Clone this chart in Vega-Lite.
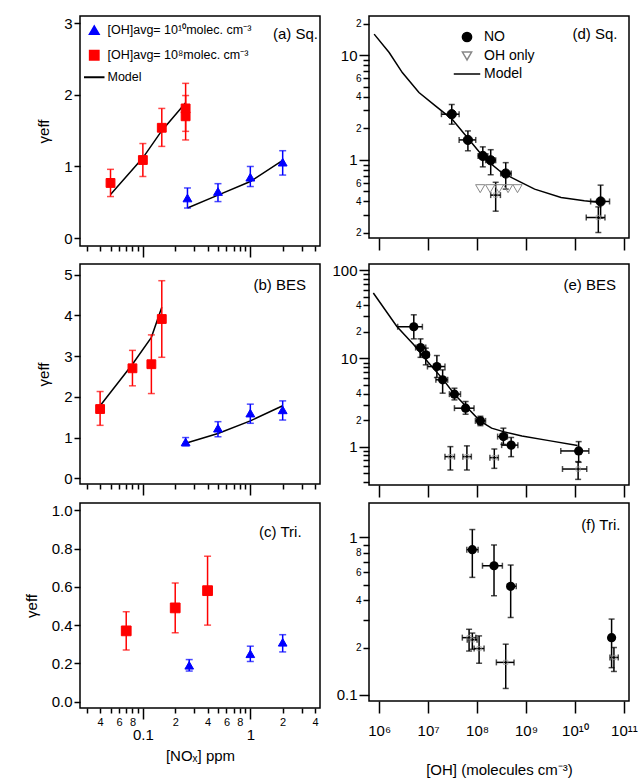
{
  "$schema": "https://vega.github.io/schema/vega-lite/v6.json",
  "padding": {"left": 23, "top": 15, "right": 2, "bottom": 2},
  "background": "white",
  "columns": 2,
  "align": "each",
  "spacing": {"row": 3, "column": 10},
  "resolve": {
    "scale": {"x": "independent", "y": "independent", "shape": "independent", "fill": "independent", "stroke": "independent"},
    "legend": {"shape": "independent", "fill": "independent", "stroke": "independent"},
    "axis": {"x": "independent", "y": "independent"}
  },
  "datasets": {
    "a_pts": [
      {"nox": 0.05, "g": 0.77, "lo": 0.58, "hi": 0.96, "oh": "1e8"},
      {"nox": 0.1, "g": 1.09, "lo": 0.86, "hi": 1.32, "oh": "1e8"},
      {"nox": 0.15, "g": 1.54, "lo": 1.28, "hi": 1.81, "oh": "1e8"},
      {"nox": 0.25, "g": 1.81, "lo": 1.49, "hi": 2.16, "oh": "1e8"},
      {"nox": 0.25, "g": 1.70, "lo": 1.37, "hi": 1.99, "oh": "1e8"},
      {"nox": 0.26, "g": 0.56, "lo": 0.42, "hi": 0.70, "oh": "1e10"},
      {"nox": 0.5, "g": 0.65, "lo": 0.51, "hi": 0.76, "oh": "1e10"},
      {"nox": 1, "g": 0.85, "lo": 0.72, "hi": 1.0, "oh": "1e10"},
      {"nox": 2, "g": 1.06, "lo": 0.88, "hi": 1.22, "oh": "1e10"}
    ],
    "a_model": [
      {"nox": 0.05, "g": 0.61, "oh": "1e8"},
      {"nox": 0.1, "g": 1.12, "oh": "1e8"},
      {"nox": 0.15, "g": 1.50, "oh": "1e8"},
      {"nox": 0.25, "g": 1.89, "oh": "1e8"},
      {"nox": 0.26, "g": 0.42, "oh": "1e10"},
      {"nox": 0.5, "g": 0.60, "oh": "1e10"},
      {"nox": 1, "g": 0.79, "oh": "1e10"},
      {"nox": 2, "g": 1.085, "oh": "1e10"}
    ],
    "b_pts": [
      {"nox": 0.04, "g": 1.70, "lo": 1.30, "hi": 2.13, "oh": "1e8"},
      {"nox": 0.08, "g": 2.70, "lo": 2.27, "hi": 3.14, "oh": "1e8"},
      {"nox": 0.12, "g": 2.80, "lo": 2.08, "hi": 3.52, "oh": "1e8"},
      {"nox": 0.15, "g": 3.91, "lo": 2.97, "hi": 4.85, "oh": "1e8"},
      {"nox": 0.25, "g": 0.89, "lo": 0.80, "hi": 1.0, "oh": "1e10"},
      {"nox": 0.5, "g": 1.23, "lo": 1.02, "hi": 1.39, "oh": "1e10"},
      {"nox": 1, "g": 1.60, "lo": 1.35, "hi": 1.82, "oh": "1e10"},
      {"nox": 2, "g": 1.68, "lo": 1.43, "hi": 1.90, "oh": "1e10"}
    ],
    "b_model": [
      {"nox": 0.04, "g": 1.78, "oh": "1e8"},
      {"nox": 0.08, "g": 2.80, "oh": "1e8"},
      {"nox": 0.12, "g": 3.46, "oh": "1e8"},
      {"nox": 0.15, "g": 4.2, "oh": "1e8"},
      {"nox": 0.25, "g": 0.86, "oh": "1e10"},
      {"nox": 0.5, "g": 1.10, "oh": "1e10"},
      {"nox": 1, "g": 1.41, "oh": "1e10"},
      {"nox": 2, "g": 1.78, "oh": "1e10"}
    ],
    "c_pts": [
      {"nox": 0.07, "g": 0.37, "lo": 0.27, "hi": 0.47, "oh": "1e8"},
      {"nox": 0.2, "g": 0.49, "lo": 0.36, "hi": 0.62, "oh": "1e8"},
      {"nox": 0.4, "g": 0.58, "lo": 0.40, "hi": 0.76, "oh": "1e8"},
      {"nox": 0.27, "g": 0.19, "lo": 0.16, "hi": 0.22, "oh": "1e10"},
      {"nox": 1, "g": 0.25, "lo": 0.21, "hi": 0.29, "oh": "1e10"},
      {"nox": 2, "g": 0.31, "lo": 0.26, "hi": 0.35, "oh": "1e10"}
    ],
    "d_pts": [
      {"conc": 3.04e7, "g": 2.73, "glo": 2.19, "ghi": 3.38, "clo": 1.87e7, "chi": 4.3e7, "series": "NO"},
      {"conc": 6.5e7, "g": 1.55, "glo": 1.22, "ghi": 1.89, "clo": 4.3e7, "chi": 9.4e7, "series": "NO"},
      {"conc": 1.31e8, "g": 1.09, "glo": 0.857, "ghi": 1.33, "clo": 1.05e8, "chi": 1.66e8, "series": "NO"},
      {"conc": 1.9e8, "g": 0.99, "glo": 0.72, "ghi": 1.25, "clo": 1.5e8, "chi": 2.4e8, "series": "NO"},
      {"conc": 3.85e8, "g": 0.74, "glo": 0.525, "ghi": 0.94, "clo": 3.04e8, "chi": 5.0e8, "series": "NO"},
      {"conc": 3.34e10, "g": 0.40, "glo": 0.277, "ghi": 0.573, "clo": 2.09e10, "chi": 5.09e10, "series": "NO"},
      {"conc": 1.16e8, "g": 0.53, "series": "OH only"},
      {"conc": 1.85e8, "g": 0.53, "series": "OH only"},
      {"conc": 2.8e8, "g": 0.53, "series": "OH only"},
      {"conc": 4.3e8, "g": 0.53, "series": "OH only"},
      {"conc": 6.7e8, "g": 0.53, "series": "OH only"}
    ],
    "d_cross": [
      {"conc": 2.4e8, "g": 0.46, "glo": 0.323, "ghi": 0.61, "clo": 1.9e8, "chi": 3.0e8},
      {"conc": 3.0e10, "g": 0.281, "glo": 0.202, "ghi": 0.355, "clo": 1.7e10, "chi": 4.1e10}
    ],
    "d_model": [
      {"conc": 7.9e5, "g": 15.9},
      {"conc": 1.6e6, "g": 10.6},
      {"conc": 2.97e6, "g": 6.82},
      {"conc": 6.5e6, "g": 4.4},
      {"conc": 1.41e7, "g": 3.28},
      {"conc": 3.07e7, "g": 2.45},
      {"conc": 6.7e7, "g": 1.58},
      {"conc": 1.46e8, "g": 1.02},
      {"conc": 3.16e8, "g": 0.757},
      {"conc": 6.9e8, "g": 0.63},
      {"conc": 1.5e9, "g": 0.525},
      {"conc": 5.2e9, "g": 0.436},
      {"conc": 1.55e10, "g": 0.406},
      {"conc": 3.4e10, "g": 0.391}
    ],
    "e_pts": [
      {"conc": 5.1e6, "g": 22.9, "glo": 16.7, "ghi": 31.3, "clo": 2.39e6, "chi": 7.64e6},
      {"conc": 7.0e6, "g": 13.3, "glo": 10.3, "ghi": 16.7, "clo": 5.56e6, "chi": 8.95e6},
      {"conc": 8.95e6, "g": 11.0, "glo": 8.47, "ghi": 13.1, "clo": 6.82e6, "chi": 1.05e7},
      {"conc": 1.51e7, "g": 8.1, "glo": 6.08, "ghi": 10.8, "clo": 9.7e6, "chi": 2.21e7},
      {"conc": 1.98e7, "g": 5.73, "glo": 4.04, "ghi": 7.43, "clo": 1.44e7, "chi": 2.51e7},
      {"conc": 3.45e7, "g": 3.94, "glo": 3.39, "ghi": 4.6, "clo": 2.72e7, "chi": 4.59e7},
      {"conc": 5.83e7, "g": 2.73, "glo": 2.33, "ghi": 3.25, "clo": 3.45e7, "chi": 8.67e7},
      {"conc": 1.17e8, "g": 1.96, "glo": 1.73, "ghi": 2.21, "clo": 9.25e7, "chi": 1.49e8},
      {"conc": 3.45e8, "g": 1.30, "glo": 1.06, "ghi": 1.62, "clo": 2.63e8, "chi": 4.17e8},
      {"conc": 4.97e8, "g": 1.04, "glo": 0.77, "ghi": 1.27, "clo": 3.18e8, "chi": 6.82e8},
      {"conc": 1.19e10, "g": 0.893, "glo": 0.664, "ghi": 1.14, "clo": 5.13e9, "chi": 1.92e10}
    ],
    "e_cross": [
      {"conc": 2.85e7, "g": 0.77, "glo": 0.543, "ghi": 1.0, "clo": 2.21e7, "chi": 3.45e7},
      {"conc": 6.2e7, "g": 0.77, "glo": 0.543, "ghi": 1.02, "clo": 5.13e7, "chi": 7.64e7},
      {"conc": 2.25e8, "g": 0.75, "glo": 0.567, "ghi": 0.94, "clo": 1.83e8, "chi": 2.72e8},
      {"conc": 1.16e10, "g": 0.557, "glo": 0.425, "ghi": 0.676, "clo": 5.56e9, "chi": 1.74e10}
    ],
    "e_model": [
      {"conc": 7.6e5, "g": 55.3},
      {"conc": 2.3e6, "g": 23.1},
      {"conc": 5.1e6, "g": 14.3},
      {"conc": 9.7e6, "g": 9.25},
      {"conc": 1.98e7, "g": 5.87},
      {"conc": 3.45e7, "g": 3.93},
      {"conc": 6.5e7, "g": 2.73},
      {"conc": 1.14e8, "g": 1.96},
      {"conc": 1.98e8, "g": 1.62},
      {"conc": 3.45e8, "g": 1.48},
      {"conc": 8.26e8, "g": 1.32},
      {"conc": 2.94e9, "g": 1.17},
      {"conc": 1.13e10, "g": 1.03}
    ],
    "f_pts": [
      {"conc": 8.0e7, "g": 0.835, "glo": 0.557, "ghi": 1.12, "clo": 6.17e7, "chi": 1.05e8},
      {"conc": 2.22e8, "g": 0.66, "glo": 0.426, "ghi": 0.894, "clo": 1.29e8, "chi": 3.29e8},
      {"conc": 4.86e8, "g": 0.489, "glo": 0.31, "ghi": 0.667, "clo": 4.17e8, "chi": 6.31e8},
      {"conc": 5.6e10, "g": 0.231, "glo": 0.149, "ghi": 0.303, "clo": 4.9e10, "chi": 6.3e10}
    ],
    "f_cross": [
      {"conc": 6.87e7, "g": 0.231, "glo": 0.19, "ghi": 0.261, "clo": 5.0e7, "chi": 9.4e7},
      {"conc": 8.0e7, "g": 0.224, "glo": 0.195, "ghi": 0.247, "clo": 6.3e7, "chi": 1.0e8},
      {"conc": 1.1e8, "g": 0.197, "glo": 0.159, "ghi": 0.237, "clo": 8.7e7, "chi": 1.39e8},
      {"conc": 3.85e8, "g": 0.161, "glo": 0.11, "ghi": 0.21, "clo": 2.48e8, "chi": 5.69e8},
      {"conc": 6.25e10, "g": 0.173, "glo": 0.141, "ghi": 0.2, "clo": 5.18e10, "chi": 7.66e10}
    ]
  },
  "concat": [
    {
      "width": 240, "height": 230,
      "layer": [
        {
          "data": {"name": "a_model"},
          "mark": {"type": "line", "color": "black", "strokeWidth": 1.5},
          "encoding": {
            "x": {"field": "nox", "type": "quantitative", "scale": {"type": "log", "domain": [0.026, 4.45], "nice": false}, "axis": {"values": [0.03,0.04,0.05,0.06,0.07,0.08,0.09,0.1,0.2,0.3,0.4,0.5,0.6,0.7,0.8,0.9,1,2,3,4], "labels": false, "title": null, "tickSize": {"condition": {"test": "datum.value==0.1||datum.value==1", "value": 11}, "value": 5}}},
            "y": {"field": "g", "type": "quantitative", "scale": {"domain": [-0.11, 3.1], "nice": false, "zero": false}, "axis": {"values": [0,1,2,3], "format": "d", "tickSize": 6, "title": "γeff", "titlePadding": 12}},
            "detail": {"field": "oh"}
          }
        },
        {
          "data": {"name": "a_pts"}, "transform": [{"filter": "datum.oh=='1e8'"}],
          "mark": {"type": "errorbar", "color": "#ff0000", "thickness": 1.5, "ticks": {"size": 7}},
          "encoding": {"x": {"field": "nox", "type": "quantitative"}, "y": {"field": "lo", "type": "quantitative", "title": "γeff"}, "y2": {"field": "hi"}}
        },
        {
          "data": {"name": "a_pts"}, "transform": [{"filter": "datum.oh=='1e10'"}],
          "mark": {"type": "errorbar", "color": "#0000ff", "thickness": 1.5, "ticks": {"size": 7}},
          "encoding": {"x": {"field": "nox", "type": "quantitative"}, "y": {"field": "lo", "type": "quantitative", "title": "γeff"}, "y2": {"field": "hi"}}
        },
        {
          "data": {"name": "a_pts"},
          "mark": {"type": "point", "opacity": 1, "strokeWidth": 1, "size": 78},
          "encoding": {
            "x": {"field": "nox", "type": "quantitative"},
            "y": {"field": "g", "type": "quantitative", "title": "γeff"},
            "shape": {"field": "oh", "type": "nominal", "scale": {"domain": ["1e10", "1e8", "Model"], "range": ["triangle-up", "square", "stroke"]}, "legend": {"orient": "top-left", "offset": 8, "padding": 0, "title": null, "labelFontSize": 12.5, "rowPadding": 7, "labelOffset": 7, "symbolSize": 420, "symbolStrokeWidth": 2, "labelLimit": 300, "labelExpr": "datum.label=='1e10'?'[OH]avg= 10¹⁰molec. cm⁻³':datum.label=='1e8'?'[OH]avg= 10⁸molec. cm⁻³':'Model'", "encode": {"symbols": {"update": {"size": {"signal": "datum.value==='Model'?420:78"}}}}}},
            "fill": {"field": "oh", "type": "nominal", "scale": {"domain": ["1e10", "1e8", "Model"], "range": ["#0000ff", "#ff0000", "transparent"]}, "legend": {"orient": "top-left", "offset": 8, "padding": 0, "title": null, "labelFontSize": 12.5, "rowPadding": 7, "labelOffset": 7, "symbolSize": 420, "symbolStrokeWidth": 2, "labelLimit": 300, "labelExpr": "datum.label=='1e10'?'[OH]avg= 10¹⁰molec. cm⁻³':datum.label=='1e8'?'[OH]avg= 10⁸molec. cm⁻³':'Model'", "encode": {"symbols": {"update": {"size": {"signal": "datum.value==='Model'?420:78"}}}}}},
            "stroke": {"field": "oh", "type": "nominal", "scale": {"domain": ["1e10", "1e8", "Model"], "range": ["#0000ff", "#ff0000", "#000000"]}, "legend": {"orient": "top-left", "offset": 8, "padding": 0, "title": null, "labelFontSize": 12.5, "rowPadding": 7, "labelOffset": 7, "symbolSize": 420, "symbolStrokeWidth": 2, "labelLimit": 300, "labelExpr": "datum.label=='1e10'?'[OH]avg= 10¹⁰molec. cm⁻³':datum.label=='1e8'?'[OH]avg= 10⁸molec. cm⁻³':'Model'", "encode": {"symbols": {"update": {"size": {"signal": "datum.value==='Model'?420:78"}}}}}}
          }
        },
        {
          "data": {"values": [{"t": "(a) Sq."}]},
          "mark": {"type": "text", "align": "right", "baseline": "middle", "fontSize": 15, "color": "black"},
          "encoding": {"x": {"datum": 4.26}, "y": {"datum": 2.85}, "text": {"field": "t"}}
        }
      ]
    },
    {
      "width": 260, "height": 222,
      "layer": [
        {
          "data": {"name": "d_model"},
          "mark": {"type": "line", "color": "black", "strokeWidth": 1.5},
          "encoding": {
            "x": {"field": "conc", "type": "quantitative", "scale": {"type": "log", "domain": [6.2e5, 1.27e11], "nice": false}, "axis": {"values": [1e6,1e7,1e8,1e9,1e10,1e11], "labels": false, "title": null, "tickSize": 12}},
            "y": {"field": "g", "type": "quantitative", "scale": {"type": "log", "domain": [0.179, 23.7], "nice": false}, "axis": {"values": [0.2,0.3,0.4,0.5,0.6,0.7,0.8,0.9,1,2,3,4,5,6,7,8,9,10,20], "title": null, "labelExpr": "datum.value==1?'1':datum.value==10?'10':(datum.value==0.2||datum.value==2||datum.value==20)?'2':(datum.value==0.4||datum.value==4)?'4':(datum.value==0.6||datum.value==6)?'6':''", "tickSize": {"condition": {"test": "datum.value==1||datum.value==10", "value": 10}, "value": 6}, "labelFontSize": {"condition": {"test": "datum.value==1||datum.value==10", "value": 15}, "value": 10}, "labelPadding": 2}}
          }
        },
        {
          "data": {"name": "d_pts"}, "transform": [{"filter": "datum.series=='NO'"}],
          "mark": {"type": "errorbar", "color": "black", "thickness": 1.5, "ticks": {"size": 6}},
          "encoding": {"x": {"field": "conc", "type": "quantitative"}, "y": {"field": "glo", "type": "quantitative", "title": null}, "y2": {"field": "ghi"}}
        },
        {
          "data": {"name": "d_pts"}, "transform": [{"filter": "datum.series=='NO'"}],
          "mark": {"type": "errorbar", "color": "black", "thickness": 1.5, "ticks": {"size": 6}},
          "encoding": {"y": {"field": "g", "type": "quantitative", "title": null}, "x": {"field": "clo", "type": "quantitative", "title": null}, "x2": {"field": "chi"}}
        },
        {
          "data": {"name": "d_cross"},
          "mark": {"type": "errorbar", "color": "black", "thickness": 1.5, "ticks": {"size": 6}},
          "encoding": {"x": {"field": "conc", "type": "quantitative"}, "y": {"field": "glo", "type": "quantitative", "title": null}, "y2": {"field": "ghi"}}
        },
        {
          "data": {"name": "d_cross"},
          "mark": {"type": "errorbar", "color": "black", "thickness": 1.5, "ticks": {"size": 6}},
          "encoding": {"y": {"field": "g", "type": "quantitative", "title": null}, "x": {"field": "clo", "type": "quantitative", "title": null}, "x2": {"field": "chi"}}
        },
        {
          "data": {"name": "d_cross"},
          "mark": {"type": "point", "shape": "square", "size": 18, "filled": false, "color": "#999999", "strokeWidth": 1},
          "encoding": {"x": {"field": "conc", "type": "quantitative"}, "y": {"field": "g", "type": "quantitative"}}
        },
        {
          "data": {"name": "d_pts"},
          "mark": {"type": "point", "opacity": 1, "strokeWidth": 1, "size": 85},
          "encoding": {
            "x": {"field": "conc", "type": "quantitative"},
            "y": {"field": "g", "type": "quantitative"},
            "shape": {"field": "series", "type": "nominal", "scale": {"domain": ["NO", "OH only", "Model"], "range": ["circle", "triangle-down", "stroke"]}, "legend": {"orient": "none", "legendX": 91, "legendY": 14, "padding": 0, "title": null, "labelFontSize": 14, "rowPadding": 4, "labelOffset": 10, "symbolSize": 700, "symbolStrokeWidth": 1.5, "encode": {"symbols": {"update": {"size": {"signal": "datum.value==='Model'?700:85"}}}}}},
            "fill": {"field": "series", "type": "nominal", "scale": {"domain": ["NO", "OH only", "Model"], "range": ["#000000", "transparent", "transparent"]}, "legend": {"orient": "none", "legendX": 91, "legendY": 14, "padding": 0, "title": null, "labelFontSize": 14, "rowPadding": 4, "labelOffset": 10, "symbolSize": 700, "symbolStrokeWidth": 1.5, "encode": {"symbols": {"update": {"size": {"signal": "datum.value==='Model'?700:85"}}}}}},
            "stroke": {"field": "series", "type": "nominal", "scale": {"domain": ["NO", "OH only", "Model"], "range": ["#000000", "#888888", "#000000"]}, "legend": {"orient": "none", "legendX": 91, "legendY": 14, "padding": 0, "title": null, "labelFontSize": 14, "rowPadding": 4, "labelOffset": 10, "symbolSize": 700, "symbolStrokeWidth": 1.5, "encode": {"symbols": {"update": {"size": {"signal": "datum.value==='Model'?700:85"}}}}}}
          }
        },
        {
          "data": {"values": [{"t": "(d) Sq."}]},
          "mark": {"type": "text", "align": "right", "baseline": "middle", "fontSize": 15, "color": "black"},
          "encoding": {"x": {"datum": 7.4e10}, "y": {"datum": 15.9}, "text": {"field": "t"}}
        }
      ]
    },
    {
      "width": 240, "height": 220,
      "layer": [
        {
          "data": {"name": "b_model"},
          "mark": {"type": "line", "color": "black", "strokeWidth": 1.5},
          "encoding": {
            "x": {"field": "nox", "type": "quantitative", "scale": {"type": "log", "domain": [0.026, 4.45], "nice": false}, "axis": {"values": [0.03,0.04,0.05,0.06,0.07,0.08,0.09,0.1,0.2,0.3,0.4,0.5,0.6,0.7,0.8,0.9,1,2,3,4], "labels": false, "title": null, "tickSize": {"condition": {"test": "datum.value==0.1||datum.value==1", "value": 11}, "value": 5}}},
            "y": {"field": "g", "type": "quantitative", "scale": {"domain": [-0.14, 5.26], "nice": false, "zero": false}, "axis": {"values": [0,1,2,3,4,5], "format": "d", "tickSize": 6, "title": "γeff", "titlePadding": 12}},
            "detail": {"field": "oh"}
          }
        },
        {
          "data": {"name": "b_pts"}, "transform": [{"filter": "datum.oh=='1e8'"}],
          "mark": {"type": "errorbar", "color": "#ff0000", "thickness": 1.5, "ticks": {"size": 7}},
          "encoding": {"x": {"field": "nox", "type": "quantitative"}, "y": {"field": "lo", "type": "quantitative", "title": "γeff"}, "y2": {"field": "hi"}}
        },
        {
          "data": {"name": "b_pts"}, "transform": [{"filter": "datum.oh=='1e10'"}],
          "mark": {"type": "errorbar", "color": "#0000ff", "thickness": 1.5, "ticks": {"size": 7}},
          "encoding": {"x": {"field": "nox", "type": "quantitative"}, "y": {"field": "lo", "type": "quantitative", "title": "γeff"}, "y2": {"field": "hi"}}
        },
        {
          "data": {"name": "b_pts"},
          "mark": {"type": "point", "opacity": 1, "strokeWidth": 1, "size": 78},
          "encoding": {
            "x": {"field": "nox", "type": "quantitative"},
            "y": {"field": "g", "type": "quantitative", "title": "γeff"},
            "shape": {"field": "oh", "type": "nominal", "scale": {"domain": ["1e10", "1e8"], "range": ["triangle-up", "square"]}, "legend": null},
            "fill": {"field": "oh", "type": "nominal", "scale": {"domain": ["1e10", "1e8"], "range": ["#0000ff", "#ff0000"]}, "legend": null},
            "stroke": {"field": "oh", "type": "nominal", "scale": {"domain": ["1e10", "1e8"], "range": ["#0000ff", "#ff0000"]}, "legend": null}
          }
        },
        {
          "data": {"values": [{"t": "(b) BES"}]},
          "mark": {"type": "text", "align": "right", "baseline": "middle", "fontSize": 15, "color": "black"},
          "encoding": {"x": {"datum": 3.29}, "y": {"datum": 4.75}, "text": {"field": "t"}}
        }
      ]
    },
    {
      "width": 260, "height": 221,
      "layer": [
        {
          "data": {"name": "e_model"},
          "mark": {"type": "line", "color": "black", "strokeWidth": 1.5},
          "encoding": {
            "x": {"field": "conc", "type": "quantitative", "scale": {"type": "log", "domain": [6.2e5, 1.27e11], "nice": false}, "axis": {"values": [1e6,1e7,1e8,1e9,1e10,1e11], "labels": false, "title": null, "tickSize": 12}},
            "y": {"field": "g", "type": "quantitative", "scale": {"type": "log", "domain": [0.367, 118], "nice": false}, "axis": {"values": [0.4,0.5,0.6,0.7,0.8,0.9,1,2,3,4,5,6,7,8,9,10,20,30,40,50,60,70,80,90,100], "title": null, "labelExpr": "datum.value==1?'1':datum.value==10?'10':datum.value==100?'100':(datum.value==2||datum.value==20)?'2':(datum.value==4||datum.value==40)?'4':''", "tickSize": {"condition": {"test": "datum.value==1||datum.value==10||datum.value==100", "value": 10}, "value": 6}, "labelFontSize": {"condition": {"test": "datum.value==1||datum.value==10||datum.value==100", "value": 15}, "value": 10}, "labelPadding": 2}}
          }
        },
        {
          "data": {"name": "e_pts"},
          "mark": {"type": "errorbar", "color": "black", "thickness": 1.5, "ticks": {"size": 6}},
          "encoding": {"x": {"field": "conc", "type": "quantitative"}, "y": {"field": "glo", "type": "quantitative", "title": null}, "y2": {"field": "ghi"}}
        },
        {
          "data": {"name": "e_pts"},
          "mark": {"type": "errorbar", "color": "black", "thickness": 1.5, "ticks": {"size": 6}},
          "encoding": {"y": {"field": "g", "type": "quantitative", "title": null}, "x": {"field": "clo", "type": "quantitative", "title": null}, "x2": {"field": "chi"}}
        },
        {
          "data": {"name": "e_cross"},
          "mark": {"type": "errorbar", "color": "black", "thickness": 1.5, "ticks": {"size": 6}},
          "encoding": {"x": {"field": "conc", "type": "quantitative"}, "y": {"field": "glo", "type": "quantitative", "title": null}, "y2": {"field": "ghi"}}
        },
        {
          "data": {"name": "e_cross"},
          "mark": {"type": "errorbar", "color": "black", "thickness": 1.5, "ticks": {"size": 6}},
          "encoding": {"y": {"field": "g", "type": "quantitative", "title": null}, "x": {"field": "clo", "type": "quantitative", "title": null}, "x2": {"field": "chi"}}
        },
        {
          "data": {"name": "e_cross"},
          "mark": {"type": "point", "shape": "square", "size": 18, "filled": false, "color": "#999999", "strokeWidth": 1},
          "encoding": {"x": {"field": "conc", "type": "quantitative"}, "y": {"field": "g", "type": "quantitative"}}
        },
        {
          "data": {"name": "e_pts"},
          "mark": {"type": "point", "shape": "circle", "size": 85, "filled": true, "opacity": 1, "color": "black"},
          "encoding": {"x": {"field": "conc", "type": "quantitative"}, "y": {"field": "g", "type": "quantitative"}}
        },
        {
          "data": {"values": [{"t": "(e) BES"}]},
          "mark": {"type": "text", "align": "right", "baseline": "middle", "fontSize": 15, "color": "black"},
          "encoding": {"x": {"datum": 6.9e10}, "y": {"datum": 69}, "text": {"field": "t"}}
        }
      ]
    },
    {
      "width": 240, "height": 205,
      "layer": [
        {
          "data": {"name": "c_pts"}, "transform": [{"filter": "datum.oh=='1e8'"}],
          "mark": {"type": "errorbar", "color": "#ff0000", "thickness": 1.5, "ticks": {"size": 7}},
          "encoding": {
            "x": {"field": "nox", "type": "quantitative", "scale": {"type": "log", "domain": [0.026, 4.45], "nice": false}, "axis": {"values": [0.03,0.04,0.05,0.06,0.07,0.08,0.09,0.1,0.2,0.3,0.4,0.5,0.6,0.7,0.8,0.9,1,2,3,4], "title": "[NOₓ] ppm", "titlePadding": 6, "tickSize": {"condition": {"test": "datum.value==0.1||datum.value==1", "value": 11}, "value": 5}, "labelExpr": "datum.value==0.1?'0.1':datum.value==1?'1':(datum.value==0.04||datum.value==0.4||datum.value==4)?'4':(datum.value==0.06||datum.value==0.6)?'6':(datum.value==0.08||datum.value==0.8)?'8':(datum.value==0.2||datum.value==2)?'2':''", "labelFontSize": {"condition": {"test": "datum.value==0.1||datum.value==1", "value": 15}, "value": 11}, "labelPadding": {"condition": {"test": "datum.value==0.1||datum.value==1", "value": 8}, "value": 3}}},
            "y": {"field": "lo", "type": "quantitative", "scale": {"domain": [-0.033, 1.038], "nice": false, "zero": false}, "axis": {"values": [0,0.2,0.4,0.6,0.8,1.0], "format": ".1f", "tickSize": 6, "title": "γeff", "titlePadding": 12}},
            "y2": {"field": "hi"}
          }
        },
        {
          "data": {"name": "c_pts"}, "transform": [{"filter": "datum.oh=='1e10'"}],
          "mark": {"type": "errorbar", "color": "#0000ff", "thickness": 1.5, "ticks": {"size": 7}},
          "encoding": {"x": {"field": "nox", "type": "quantitative"}, "y": {"field": "lo", "type": "quantitative", "title": "γeff"}, "y2": {"field": "hi"}}
        },
        {
          "data": {"name": "c_pts"},
          "mark": {"type": "point", "opacity": 1, "strokeWidth": 1},
          "encoding": {
            "x": {"field": "nox", "type": "quantitative"},
            "y": {"field": "g", "type": "quantitative", "title": "γeff"},
            "shape": {"field": "oh", "type": "nominal", "scale": {"domain": ["1e10", "1e8"], "range": ["triangle-up", "square"]}, "legend": null},
            "fill": {"field": "oh", "type": "nominal", "scale": {"domain": ["1e10", "1e8"], "range": ["#0000ff", "#ff0000"]}, "legend": null},
            "stroke": {"field": "oh", "type": "nominal", "scale": {"domain": ["1e10", "1e8"], "range": ["#0000ff", "#ff0000"]}, "legend": null},
            "size": {"field": "oh", "type": "nominal", "scale": {"domain": ["1e10", "1e8"], "range": [75, 95]}, "legend": null}
          }
        },
        {
          "data": {"values": [{"t": "(c) Tri."}]},
          "mark": {"type": "text", "align": "right", "baseline": "middle", "fontSize": 15, "color": "black"},
          "encoding": {"x": {"datum": 3.0}, "y": {"datum": 0.885}, "text": {"field": "t"}}
        }
      ]
    },
    {
      "width": 260, "height": 198,
      "layer": [
        {
          "data": {"name": "f_pts"},
          "mark": {"type": "errorbar", "color": "black", "thickness": 1.5, "ticks": {"size": 6}},
          "encoding": {
            "x": {"field": "conc", "type": "quantitative", "scale": {"type": "log", "domain": [6.2e5, 1.27e11], "nice": false}, "axis": {"values": [1e6,1e7,1e8,1e9,1e10,1e11], "title": "[OH] (molecules cm⁻³)", "titlePadding": 24, "tickSize": 12, "labelFontSize": 15, "labelPadding": 10, "labelExpr": "['10⁶','10⁷','10⁸','10⁹','10¹⁰','10¹¹'][round(log(datum.value)/LN10)-6]"}},
            "y": {"field": "glo", "type": "quantitative", "scale": {"type": "log", "domain": [0.0916, 1.65], "nice": false}, "axis": {"values": [0.1,0.2,0.3,0.4,0.5,0.6,0.7,0.8,0.9,1], "title": null, "labelExpr": "datum.value==1?'1':datum.value==0.1?'0.1':datum.value==0.2?'2':datum.value==0.4?'4':datum.value==0.6?'6':datum.value==0.8?'8':''", "tickSize": {"condition": {"test": "datum.value==1||datum.value==0.1", "value": 10}, "value": 6}, "labelFontSize": {"condition": {"test": "datum.value==1||datum.value==0.1", "value": 15}, "value": 10}, "labelPadding": 2}},
            "y2": {"field": "ghi"}
          }
        },
        {
          "data": {"name": "f_pts"},
          "mark": {"type": "errorbar", "color": "black", "thickness": 1.5, "ticks": {"size": 6}},
          "encoding": {"y": {"field": "g", "type": "quantitative", "title": null}, "x": {"field": "clo", "type": "quantitative", "title": "[OH] (molecules cm⁻³)"}, "x2": {"field": "chi"}}
        },
        {
          "data": {"name": "f_cross"},
          "mark": {"type": "errorbar", "color": "black", "thickness": 1.5, "ticks": {"size": 6}},
          "encoding": {"x": {"field": "conc", "type": "quantitative", "title": "[OH] (molecules cm⁻³)"}, "y": {"field": "glo", "type": "quantitative", "title": null}, "y2": {"field": "ghi"}}
        },
        {
          "data": {"name": "f_cross"},
          "mark": {"type": "errorbar", "color": "black", "thickness": 1.5, "ticks": {"size": 6}},
          "encoding": {"y": {"field": "g", "type": "quantitative", "title": null}, "x": {"field": "clo", "type": "quantitative", "title": "[OH] (molecules cm⁻³)"}, "x2": {"field": "chi"}}
        },
        {
          "data": {"name": "f_cross"},
          "mark": {"type": "point", "shape": "square", "size": 18, "filled": false, "color": "#999999", "strokeWidth": 1},
          "encoding": {"x": {"field": "conc", "type": "quantitative", "title": "[OH] (molecules cm⁻³)"}, "y": {"field": "g", "type": "quantitative", "title": null}}
        },
        {
          "data": {"name": "f_pts"},
          "mark": {"type": "point", "shape": "circle", "size": 85, "filled": true, "opacity": 1, "color": "black"},
          "encoding": {"x": {"field": "conc", "type": "quantitative", "title": "[OH] (molecules cm⁻³)"}, "y": {"field": "g", "type": "quantitative", "title": null}}
        },
        {
          "data": {"values": [{"t": "(f) Tri."}]},
          "mark": {"type": "text", "align": "right", "baseline": "middle", "fontSize": 15, "color": "black"},
          "encoding": {"x": {"datum": 8.5e10}, "y": {"datum": 1.2}, "text": {"field": "t"}}
        }
      ]
    }
  ],
  "config": {
    "font": "Liberation Sans",
    "view": {"stroke": "black", "strokeWidth": 1.5},
    "axis": {"grid": false, "domain": false, "tickColor": "black", "tickWidth": 1.5, "labelColor": "black", "titleColor": "black", "labelFont": "Liberation Sans", "titleFont": "Liberation Sans", "labelFontSize": 15, "titleFontSize": 15, "titleFontWeight": "normal", "labelOverlap": false, "labelFlush": false, "labelBound": false},
    "legend": {"labelFont": "Liberation Sans", "labelColor": "black", "symbolOpacity": 1},
    "text": {"font": "Liberation Sans"}
  }
}
